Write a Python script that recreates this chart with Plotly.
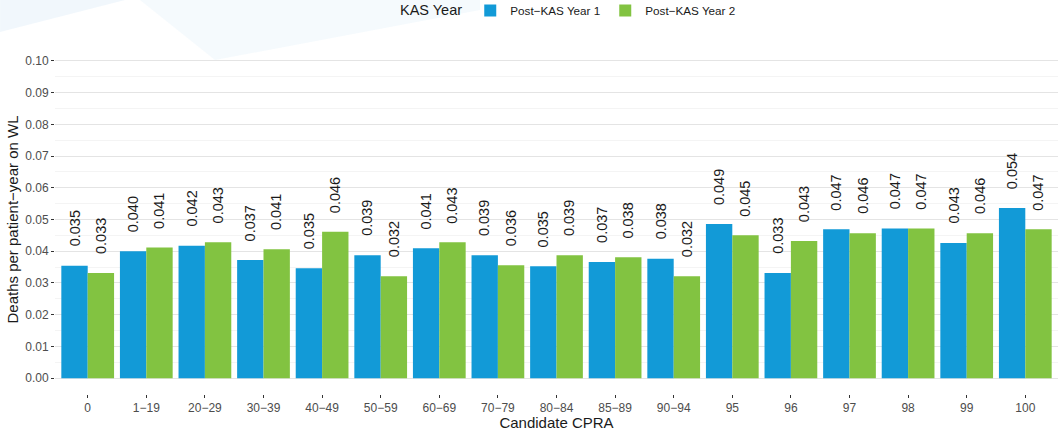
import plotly.graph_objects as go


BLUE = "#129AD7"
GREEN = "#82C341"
TICK_TEXT = "#4D4D4D"
TEXT_COLOR = "#1A1A1A"
GRID_MAJOR = "#E4E4E4"
GRID_MINOR = "#F4F4F4"
FONT = "Liberation Sans, Arial, Helvetica, sans-serif"

# data
cpra_groups = [
    "0", "1−19", "20−29", "30−39", "40−49", "50−59", "60−69", "70−79",
    "80−84", "85−89", "90−94", "95", "96", "97", "98", "99", "100",
]
year1_rates = [
    0.0354, 0.0400, 0.0417, 0.0372, 0.0346, 0.0387, 0.0409, 0.0387,
    0.0353, 0.0366, 0.0376, 0.0486, 0.0331, 0.0469, 0.0472, 0.0426, 0.0536,
]
year2_rates = [
    0.0331, 0.0412, 0.0428, 0.0406, 0.0461, 0.0321, 0.0428, 0.0356,
    0.0387, 0.0381, 0.0321, 0.0450, 0.0432, 0.0457, 0.0472, 0.0457, 0.0469,
]
series_names = ["Post−KAS Year 1", "Post−KAS Year 2"]
y_ticks = [0.00, 0.01, 0.02, 0.03, 0.04, 0.05, 0.06, 0.07, 0.08, 0.09, 0.10]

WIDTH, HEIGHT = 1062, 431

# panel box in pixels
PANEL_L, PANEL_R, PANEL_T, PANEL_B = 55, 1058, 45, 394


def to_paper(px, py):
    xp = (px - PANEL_L) / (PANEL_R - PANEL_L)
    yp = (PANEL_B - py) / (PANEL_B - PANEL_T)
    return xp, yp


def swoosh_path(points):
    parts = []
    for i, (px, py) in enumerate(points):
        xp, yp = to_paper(px, py)
        parts.append(("M" if i == 0 else "L") + f"{xp:.4f},{yp:.4f}")
    return " ".join(parts) + " Z"


fig = go.Figure()

for name, values, color in zip(series_names, [year1_rates, year2_rates], [BLUE, GREEN]):
    fig.add_trace(
        go.Bar(
            x=cpra_groups,
            y=values,
            name=name,
            marker={"color": color, "line": {"width": 0}},
            hovertemplate="%{x}: %{y:.3f}<extra>" + name + "</extra>",
        )
    )

# value labels, rotated, sitting a little above each bar
annotations = []
for k, values in enumerate([year1_rates, year2_rates]):
    offset = (k - 0.5) * 0.45
    for i, value in enumerate(values):
        annotations.append(
            dict(
                x=i + offset,
                y=value,
                xref="x",
                yref="y",
                text=f"{value:.3f}",
                textangle=-90,
                showarrow=False,
                xanchor="center",
                yanchor="middle",
                yshift=37,
                font={"size": 14.5, "color": TEXT_COLOR, "family": FONT},
            )
        )

# faint slide-background swoosh in the top-left corner
shapes = [
    dict(
        type="path",
        xref="paper",
        yref="paper",
        path=swoosh_path([(0, 0), (125, 0), (0, 32)]),
        fillcolor="rgba(214, 233, 246, 0.35)",
        line={"width": 0},
        layer="below",
    ),
    dict(
        type="path",
        xref="paper",
        yref="paper",
        path=swoosh_path([(140, 0), (480, 0), (480, 10), (215, 60)]),
        fillcolor="rgba(222, 238, 248, 0.3)",
        line={"width": 0},
        layer="below",
    ),
]

legend_x, legend_y = to_paper(398, 10.5)

fig.update_layout(
    width=WIDTH,
    height=HEIGHT,
    template="none",
    barmode="group",
    bargap=0.1,
    bargroupgap=0,
    paper_bgcolor="white",
    plot_bgcolor="rgba(0,0,0,0)",
    margin={
        "l": PANEL_L,
        "r": WIDTH - PANEL_R,
        "t": PANEL_T,
        "b": HEIGHT - PANEL_B,
        "autoexpand": False,
    },
    font={"family": FONT, "color": TEXT_COLOR},
    annotations=annotations,
    shapes=shapes,
    showlegend=True,
    legend={
        "orientation": "h",
        "xref": "paper",
        "x": legend_x,
        "xanchor": "left",
        "yref": "paper",
        "y": legend_y,
        "yanchor": "middle",
        "title": {"text": "KAS Year", "font": {"size": 14.5, "color": TEXT_COLOR}, "side": "left"},
        "font": {"size": 11.7, "color": TEXT_COLOR},
        "bgcolor": "rgba(0,0,0,0)",
        "itemwidth": 30,
        "traceorder": "normal",
    },
)

fig.update_xaxes(
    type="category",
    range=[-0.558, len(cpra_groups) - 1 + 0.558],
    automargin=False,
    showgrid=False,
    zeroline=False,
    showline=False,
    ticks="outside",
    ticklen=3,
    tickwidth=1,
    tickcolor="#333333",
    tickfont={"size": 12, "color": TICK_TEXT},
    title={"text": "Candidate CPRA", "font": {"size": 15, "color": TEXT_COLOR}, "standoff": 2},
)

fig.update_yaxes(
    range=[-0.005, 0.105],
    automargin=False,
    tickvals=y_ticks,
    ticktext=[f"{t:.2f}" for t in y_ticks],
    showgrid=True,
    gridcolor=GRID_MAJOR,
    gridwidth=1.3,
    zeroline=False,
    showline=False,
    ticks="outside",
    ticklen=3,
    tickwidth=1,
    tickcolor="#333333",
    tickfont={"size": 12, "color": TICK_TEXT},
    minor={"dtick": 0.005, "tick0": 0, "showgrid": True, "gridcolor": GRID_MINOR, "gridwidth": 1},
    title={"text": "Deaths per patient−year on WL", "font": {"size": 15, "color": TEXT_COLOR}, "standoff": 2},
)

# the page body has a default 8px margin; drop it so the figure fills the window
fig.write_html(
    "out.html",
    config={"displayModeBar": False},
    post_script="document.body.style.margin = '0';",
)
